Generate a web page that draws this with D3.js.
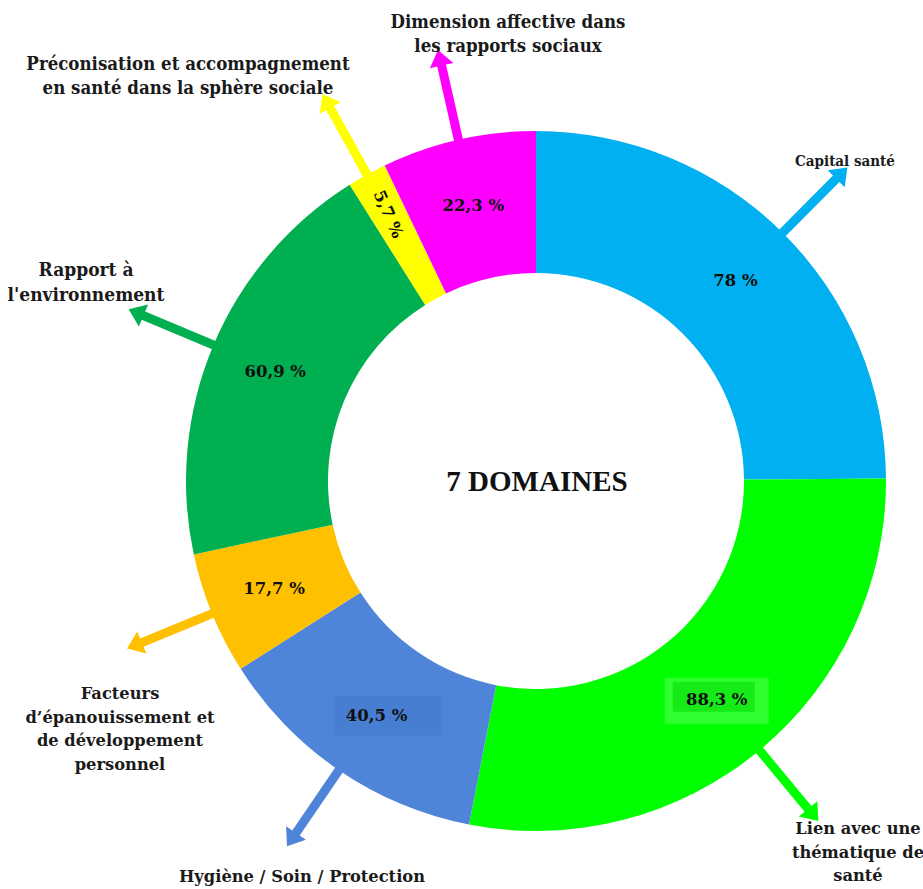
<!DOCTYPE html>
<html>
<head>
<meta charset="utf-8">
<script src="https://cdn.jsdelivr.net/npm/d3@7"></script>
<style>
  body { margin: 0; background: #fff; }
  svg { display: block; }
  .lbl { font-family: "DejaVu Serif", serif; font-weight: bold; fill: #1a1a1a; }
  .cond { font-family: "DejaVu Serif Condensed", "DejaVu Serif", serif; font-stretch: condensed; }
  .pct { font-family: "DejaVu Serif", serif; font-weight: bold; font-size: 16.5px; fill: #111; }
</style>
</head>
<body>
<svg id="chart" width="923" height="889"></svg>
<script>
// domains, clockwise from the top
var domains = ['Capital santé', 'Lien avec une thématique de santé', 'Hygiène / Soin / Protection',
  "Facteurs d'épanouissement et de développement personnel", "Rapport à l'environnement",
  'Préconisation et accompagnement en santé dans la sphère sociale', 'Dimension affective dans les rapports sociaux'];
var values = [78, 88.3, 40.5, 17.7, 60.9, 5.7, 22.3];
var pctLabels = ['78 %', '88,3 %', '40,5 %', '17,7 %', '60,9 %', '5,7 %', '22,3 %'];
var labelLines = [
  ['Capital santé'],
  ['Lien avec une', 'thématique de', 'santé'],
  ['Hygiène / Soin / Protection'],
  ['Facteurs', 'd\u2019épanouissement et', 'de développement', 'personnel'],
  ['Rapport à', "l'environnement"],
  ['Préconisation et accompagnement', 'en santé dans la sphère sociale'],
  ['Dimension affective dans', 'les rapports sociaux']
];
var colors = ['#00b0f0', '#00ff00', '#4f85d9', '#ffc000', '#00b050', '#ffff00', '#ff00ff'];

// layout of the outer labels (x, y of first line), font size and style
var labelPos = [[845, 166], [858, 834], [302, 882], [120, 699], [86, 276], [188, 70], [508, 28]];
var labelSize = [15, 16.3, 16.3, 16.3, 19, 18.5, 18.5];
var condensed = [true, false, false, false, true, true, true];

var svg = d3.select('#chart');
var cx = 536, cy = 481, rOuter = 350, rInner = 208;
var g = svg.append('g').attr('transform', 'translate(' + cx + ',' + cy + ')');

var pie = d3.pie().sort(null).value(function(d){ return d; });
var arcs = pie(values);
var arc = d3.arc().innerRadius(rInner).outerRadius(rOuter);
var labelArc = d3.arc().innerRadius(283).outerRadius(283);

g.selectAll('path.slice').data(arcs).enter().append('path')
  .attr('class', 'slice')
  .attr('d', arc)
  .attr('fill', function(d, i){ return colors[i]; });

// arrows
function arrowPath(a, r0, r1) {
  var ux = Math.sin(a), uy = -Math.cos(a);
  var px = -uy, py = ux;
  var shaft = 4.5, head = 12, headLen = 16;
  var rb = r1 - headLen;
  var pts = [
    [r0 * ux + shaft * px, r0 * uy + shaft * py],
    [rb * ux + shaft * px, rb * uy + shaft * py],
    [rb * ux + head * px, rb * uy + head * py],
    [r1 * ux, r1 * uy],
    [rb * ux - head * px, rb * uy - head * py],
    [rb * ux - shaft * px, rb * uy - shaft * py],
    [r0 * ux - shaft * px, r0 * uy - shaft * py]
  ];
  return 'M' + pts.map(function(p){ return p[0].toFixed(1) + ',' + p[1].toFixed(1); }).join('L') + 'Z';
}
g.selectAll('path.arrow').data(arcs).enter().append('path')
  .attr('class', 'arrow')
  .attr('d', function(d){ return arrowPath((d.startAngle + d.endAngle) / 2, rOuter - 10, rOuter + 92); })
  .attr('fill', function(d, i){ return colors[i]; });

// highlight boxes behind two of the values
var c1 = labelArc.centroid(arcs[1]);
g.append('rect').attr('x', c1[0] - 52).attr('y', c1[1] - 21).attr('width', 104).attr('height', 46)
  .attr('fill', '#ffffff').attr('opacity', 0.18);
g.append('rect').attr('x', c1[0] - 44).attr('y', c1[1] - 17).attr('width', 82).attr('height', 30)
  .attr('fill', '#00d800').attr('opacity', 0.5);
var c2 = labelArc.centroid(arcs[2]);
g.append('rect').attr('x', c2[0] - 42).attr('y', c2[1] - 19).attr('width', 107).attr('height', 40)
  .attr('fill', '#3f75c8').attr('opacity', 0.45);

// percentage labels
g.selectAll('text.pct').data(arcs).enter().append('text')
  .attr('class', 'pct')
  .attr('text-anchor', 'middle')
  .attr('dy', '0.35em')
  .attr('transform', function(d, i){
    var c = labelArc.centroid(d);
    if (values[i] < 10) {
      var c5 = d3.arc().innerRadius(305).outerRadius(305).centroid(d);
      var deg = (d.startAngle + d.endAngle) / 2 * 180 / Math.PI - 265;
      return 'translate(' + c5[0] + ',' + c5[1] + ') rotate(' + deg + ')';
    }
    return 'translate(' + c[0] + ',' + c[1] + ')';
  })
  .text(function(d, i){ return pctLabels[i]; });

// centre title
svg.append('text')
  .attr('x', cx + 1).attr('y', cy)
  .attr('dy', '0.35em')
  .attr('text-anchor', 'middle')
  .style('font-family', '"Liberation Serif", "Times New Roman", serif')
  .style('font-weight', 'bold')
  .style('font-size', '29px')
  .attr('fill', '#111')
  .text('7 DOMAINES');

// outer labels
labelLines.forEach(function(lines, i){
  var t = svg.append('text')
    .attr('class', 'lbl' + (condensed[i] ? ' cond' : ''))
    .attr('text-anchor', 'middle')
    .attr('x', labelPos[i][0]).attr('y', labelPos[i][1])
    .style('font-size', labelSize[i] + 'px');
  lines.forEach(function(s, k){
    t.append('tspan').attr('x', labelPos[i][0]).attr('dy', k === 0 ? 0 : (condensed[i] ? '1.3em' : '1.45em')).text(s);
  });
});
</script>
</body>
</html>
